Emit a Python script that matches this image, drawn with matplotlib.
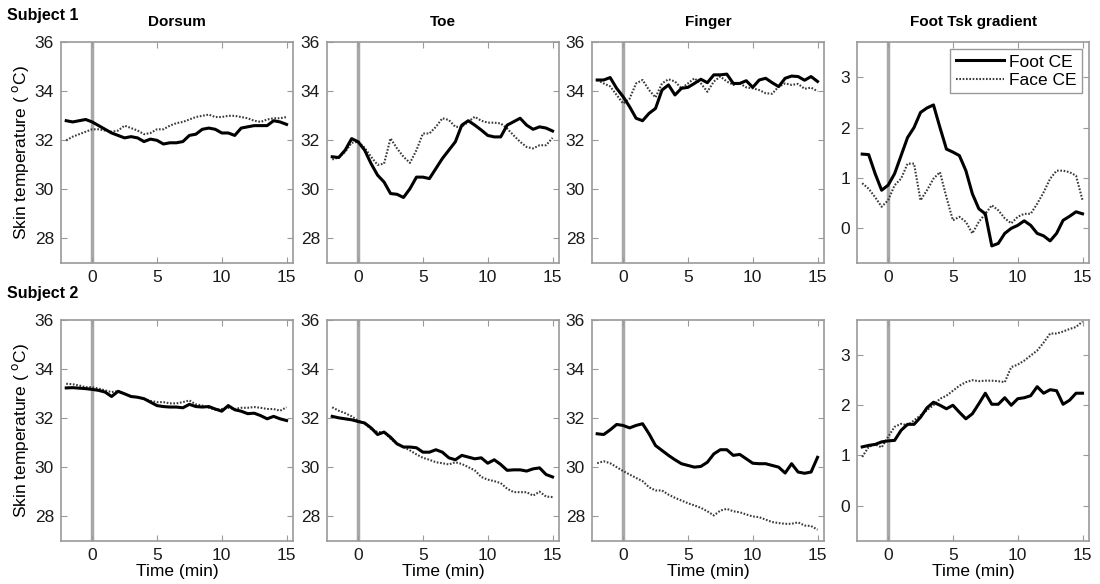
import matplotlib
matplotlib.use("Agg")
import matplotlib.pyplot as plt
import numpy as np

plt.rcParams['font.family'] = ['Liberation Sans', 'DejaVu Sans']

# time axis, 0.5 min steps from -2 to 15
t = np.arange(-2, 15.01, 0.5)

titles = ['Dorsum', 'Toe', 'Finger', 'Foot Tsk gradient']
subjects = ['Subject 1', 'Subject 2']

# ---- Subject 1 ----
s1_dorsum_foot = [32.8, 32.75, 32.8, 32.85, 32.75, 32.6, 32.45, 32.3, 32.2, 32.1, 32.15, 32.1,
                  31.95, 32.05, 32.0, 31.85, 31.9, 31.9, 31.95, 32.2, 32.25, 32.45, 32.5, 32.45,
                  32.3, 32.3, 32.2, 32.5, 32.55, 32.6, 32.6, 32.6, 32.8, 32.75, 32.65]
s1_dorsum_face = [32.0, 32.15, 32.25, 32.35, 32.45, 32.45, 32.4, 32.35, 32.4, 32.6, 32.5, 32.4,
                  32.25, 32.3, 32.45, 32.45, 32.6, 32.7, 32.75, 32.85, 32.95, 33.0, 33.05, 32.95,
                  32.95, 33.0, 33.0, 32.95, 32.9, 32.8, 32.75, 32.85, 32.9, 32.9, 32.95]
s1_toe_foot = [31.33, 31.3, 31.6, 32.07, 31.94, 31.6, 31.05, 30.58, 30.3, 29.83, 29.8, 29.67,
               30.03, 30.5, 30.5, 30.44, 30.85, 31.26, 31.6, 31.94, 32.62, 32.8, 32.62, 32.42,
               32.2, 32.14, 32.14, 32.62, 32.76, 32.9, 32.62, 32.45, 32.55, 32.5, 32.38]
s1_toe_face = [31.22, 31.3, 31.53, 31.9, 31.94, 31.7, 31.33, 31.0, 31.05, 32.08, 31.67, 31.33,
               31.08, 31.6, 32.28, 32.28, 32.55, 32.9, 32.83, 32.55, 32.55, 32.76, 32.96, 32.8,
               32.72, 32.72, 32.69, 32.48, 32.2, 31.94, 31.73, 31.67, 31.8, 31.8, 32.1]
s1_finger_foot = [34.46, 34.46, 34.56, 34.12, 33.78, 33.37, 32.9, 32.8, 33.1, 33.3, 34.05, 34.26,
                  33.85, 34.12, 34.16, 34.32, 34.49, 34.35, 34.67, 34.67, 34.7, 34.32, 34.32, 34.43,
                  34.16, 34.46, 34.53, 34.35, 34.19, 34.53, 34.62, 34.6, 34.45, 34.6, 34.4]
s1_finger_face = [34.46, 34.32, 34.2, 33.85, 33.5, 33.7, 34.32, 34.46, 34.05, 33.75, 34.32, 34.49,
                  34.4, 34.12, 34.32, 34.53, 34.32, 33.98, 34.4, 34.6, 34.4, 34.26, 34.32, 34.16,
                  34.12, 34.05, 33.92, 33.9, 34.19, 34.32, 34.26, 34.3, 34.1, 34.15, 34.0]
s1_grad_foot = [1.47, 1.46, 1.08, 0.75, 0.85, 1.08, 1.44, 1.8, 2.0, 2.3, 2.39, 2.45,
                2.0, 1.57, 1.51, 1.44, 1.14, 0.68, 0.38, 0.28, -0.36, -0.31, -0.11, -0.01,
                0.05, 0.14, 0.05, -0.11, -0.16, -0.26, -0.11, 0.15, 0.23, 0.32, 0.28]
s1_grad_face = [0.89, 0.78, 0.61, 0.42, 0.55, 0.85, 0.98, 1.28, 1.28, 0.55, 0.75, 0.98,
                1.11, 0.61, 0.15, 0.22, 0.12, -0.11, 0.12, 0.28, 0.45, 0.35, 0.19, 0.09,
                0.22, 0.28, 0.28, 0.48, 0.71, 0.98, 1.14, 1.14, 1.11, 1.04, 0.55]

# ---- Subject 2 ----
s2_dorsum_foot = [33.23, 33.24, 33.22, 33.2, 33.17, 33.13, 33.06, 32.88, 33.09, 32.99, 32.88, 32.85,
                  32.79, 32.65, 32.51, 32.47, 32.45, 32.45, 32.42, 32.56, 32.47, 32.45, 32.47, 32.37,
                  32.28, 32.51, 32.34, 32.28, 32.18, 32.2, 32.1, 31.97, 32.07, 31.97, 31.9]
s2_dorsum_face = [33.4, 33.38, 33.33, 33.26, 33.26, 33.2, 33.13, 33.06, 33.1, 32.99, 32.88, 32.85,
                  32.79, 32.7, 32.65, 32.65, 32.6, 32.6, 32.65, 32.72, 32.56, 32.51, 32.42, 32.34,
                  32.37, 32.42, 32.37, 32.42, 32.42, 32.45, 32.42, 32.37, 32.37, 32.3, 32.44]
s2_toe_foot = [32.07, 32.01, 31.97, 31.93, 31.86, 31.8, 31.6, 31.33, 31.43, 31.22, 30.95, 30.82,
               30.82, 30.79, 30.61, 30.61, 30.71, 30.61, 30.38, 30.3, 30.48, 30.41, 30.34, 30.38,
               30.16, 30.3, 30.11, 29.87, 29.89, 29.89, 29.84, 29.93, 29.97, 29.7, 29.6]
s2_toe_face = [32.44, 32.3, 32.2, 32.07, 31.9, 31.77, 31.56, 31.43, 31.43, 31.16, 30.95, 30.82,
               30.68, 30.52, 30.38, 30.3, 30.2, 30.16, 30.11, 30.2, 30.13, 30.0, 29.87, 29.6,
               29.49, 29.43, 29.35, 29.12, 28.98, 28.98, 28.98, 28.84, 29.0, 28.8, 28.78]
s2_finger_foot = [31.36, 31.33, 31.52, 31.74, 31.7, 31.6, 31.7, 31.77, 31.36, 30.88, 30.68, 30.48,
                  30.3, 30.14, 30.07, 30.0, 30.03, 30.2, 30.54, 30.71, 30.71, 30.48, 30.52, 30.34,
                  30.16, 30.14, 30.14, 30.07, 30.0, 29.76, 30.14, 29.8, 29.75, 29.8, 30.4]
s2_finger_face = [30.16, 30.24, 30.16, 30.0, 29.84, 29.7, 29.56, 29.43, 29.18, 29.05, 29.05, 28.88,
                  28.75, 28.64, 28.53, 28.44, 28.34, 28.2, 28.03, 28.23, 28.3, 28.2, 28.16, 28.07,
                  27.99, 27.96, 27.86, 27.76, 27.72, 27.69, 27.69, 27.75, 27.62, 27.6, 27.45]
s2_grad_foot = [1.17, 1.2, 1.22, 1.27, 1.29, 1.3, 1.5, 1.62, 1.62, 1.76, 1.95, 2.06,
                2.0, 1.93, 2.0, 1.86, 1.73, 1.83, 2.03, 2.24, 2.02, 2.02, 2.15, 2.0,
                2.13, 2.15, 2.19, 2.37, 2.24, 2.31, 2.29, 2.02, 2.1, 2.24, 2.24]
s2_grad_face = [0.97, 1.17, 1.22, 1.16, 1.37, 1.57, 1.63, 1.6, 1.7, 1.8, 1.9, 2.0,
                2.13, 2.19, 2.29, 2.39, 2.46, 2.5, 2.48, 2.49, 2.49, 2.48, 2.46, 2.76,
                2.81, 2.89, 2.99, 3.09, 3.25, 3.43, 3.43, 3.47, 3.52, 3.56, 3.67]

foot = [[s1_dorsum_foot, s1_toe_foot, s1_finger_foot, s1_grad_foot],
        [s2_dorsum_foot, s2_toe_foot, s2_finger_foot, s2_grad_foot]]
face = [[s1_dorsum_face, s1_toe_face, s1_finger_face, s1_grad_face],
        [s2_dorsum_face, s2_toe_face, s2_finger_face, s2_grad_face]]

fig = plt.figure(figsize=(11, 5.84), dpi=100)

lefts = [0.0555, 0.2973, 0.5382, 0.7791]
bottoms = [0.5497, 0.0741]
w, h = 0.2109, 0.378
spine_col = '#9a9a9a'

for r in range(2):
    for c in range(4):
        ax = fig.add_axes([lefts[c], bottoms[r], w, h])
        ax.axvline(0, color='#a8a8a8', lw=2.5, zorder=1)
        ax.plot(t, foot[r][c], color='black', lw=2.2, label='Foot CE', zorder=3)
        ax.plot(t, face[r][c], color='#3a3a3a', lw=1.5, linestyle=(0, (0.8, 0.8)),
                label='Face CE', zorder=2)
        ax.set_xlim(-2.4, 15.5)
        ax.set_xticks([0, 5, 10, 15])
        if c < 3:
            ax.set_ylim(27, 36)
            ax.set_yticks([28, 30, 32, 34, 36])
        else:
            ax.set_ylim(-0.7, 3.7)
            ax.set_yticks([0, 1, 2, 3])
        for s in ax.spines.values():
            s.set_color(spine_col)
            s.set_linewidth(1.2)
        ax.tick_params(direction='in', top=True, right=True, length=4,
                       color=spine_col, labelsize=12.5, labelcolor='#1a1a1a', pad=5)
        if r == 0:
            ax.set_title(titles[c], fontsize=11, fontweight='bold', pad=12)
        else:
            ax.set_xlabel('Time (min)', fontsize=12.5, labelpad=1)
        if c == 0:
            ax.set_ylabel('Skin temperature ( $^\\mathrm{o}$C)', fontsize=12.5, labelpad=3)
        if r == 0 and c == 3:
            leg = ax.legend(loc='upper right', fontsize=12.5, frameon=True, fancybox=False,
                            handlelength=2.8, borderaxespad=0.4, borderpad=0.3,
                            labelspacing=0.2, handletextpad=0.3)
            leg.get_frame().set_edgecolor('#808080')
            leg.get_frame().set_linewidth(1.0)

fig.text(0.006, 0.973, subjects[0], fontsize=11.5, fontweight='bold', va='center')
fig.text(0.006, 0.498, subjects[1], fontsize=11.5, fontweight='bold', va='center')

fig.savefig('out.png', dpi=100)
